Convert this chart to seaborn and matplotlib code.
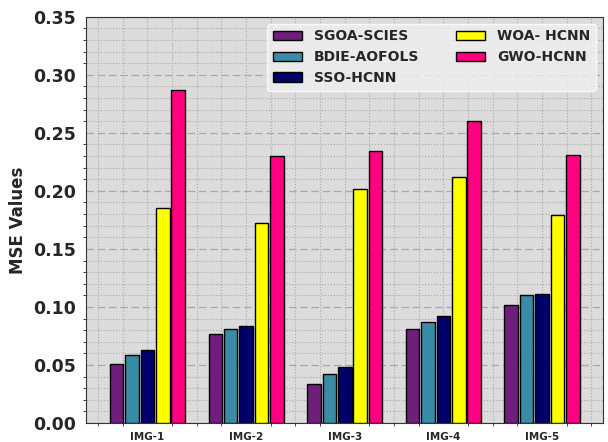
import pandas as pd
import seaborn as sns
import matplotlib.pyplot as plt
from matplotlib.ticker import MultipleLocator, AutoMinorLocator

# data
images = ['IMG-1', 'IMG-2', 'IMG-3', 'IMG-4', 'IMG-5']
methods = ['SGOA-SCIES', 'BDIE-AOFOLS', 'SSO-HCNN', 'WOA- HCNN', 'GWO-HCNN']
sgoa = [0.051, 0.077, 0.034, 0.081, 0.102]
bdie = [0.059, 0.081, 0.042, 0.087, 0.110]
sso = [0.063, 0.084, 0.048, 0.092, 0.111]
woa = [0.185, 0.172, 0.202, 0.212, 0.179]
gwo = [0.287, 0.230, 0.234, 0.260, 0.231]
colors = ['#6f1f7b', '#3a8ca6', '#00006b', '#ffff00', '#ff0080']

rows = []
for m, vals in zip(methods, [sgoa, bdie, sso, woa, gwo]):
    for img, v in zip(images, vals):
        rows.append({'Image': img, 'Method': m, 'MSE': v})
df = pd.DataFrame(rows)

sns.set_style('white')
plt.rcParams['font.family'] = ['DejaVu Sans']
fig, ax = plt.subplots(figsize=(6.08, 4.42), dpi=100)
fig.subplots_adjust(left=0.142, right=0.992, top=0.962, bottom=0.043)

sns.barplot(data=df, x='Image', y='MSE', hue='Method', hue_order=methods,
            palette=colors, saturation=1, width=0.78, gap=0.12,
            edgecolor='black', linewidth=1.0, ax=ax, zorder=3)

ax.set_facecolor('#dcdcdc')
ax.set_xlim(-0.62, 4.62)
ax.set_ylim(0, 0.35)
ax.yaxis.set_major_locator(MultipleLocator(0.05))
ax.yaxis.set_minor_locator(AutoMinorLocator(5))
ax.xaxis.set_minor_locator(MultipleLocator(0.25))
ax.grid(axis='y', which='major', linestyle=(0, (6, 3)), color='#a8a8a8', linewidth=0.9, zorder=0)
ax.grid(axis='y', which='minor', linestyle=':', color='#a8a8a8', linewidth=0.8, zorder=0)
ax.grid(axis='x', which='both', linestyle=':', color='#a8a8a8', linewidth=0.8, zorder=0)
ax.set_axisbelow(True)
ax.tick_params(axis='y', which='major', labelsize=12.5, length=4, direction='out')
ax.tick_params(axis='y', which='minor', length=2, left=True)
ax.tick_params(axis='x', which='major', labelsize=7.5, length=3)
ax.tick_params(axis='x', which='minor', length=2, bottom=True)
for lbl in ax.get_xticklabels() + ax.get_yticklabels():
    lbl.set_fontweight('bold')
ax.set_xlabel('')
ax.set_ylabel('MSE Values', fontsize=12, fontweight='bold')
for s in ax.spines.values():
    s.set_color('#333333')

ax.legend(loc='upper right', ncol=2, prop={'weight': 'bold', 'size': 10},
          frameon=True, framealpha=0.8, edgecolor='white', facecolor='#f0f0f0',
          columnspacing=2.6, handlelength=2.1, handletextpad=0.9)

plt.savefig('out.png', dpi=100)
